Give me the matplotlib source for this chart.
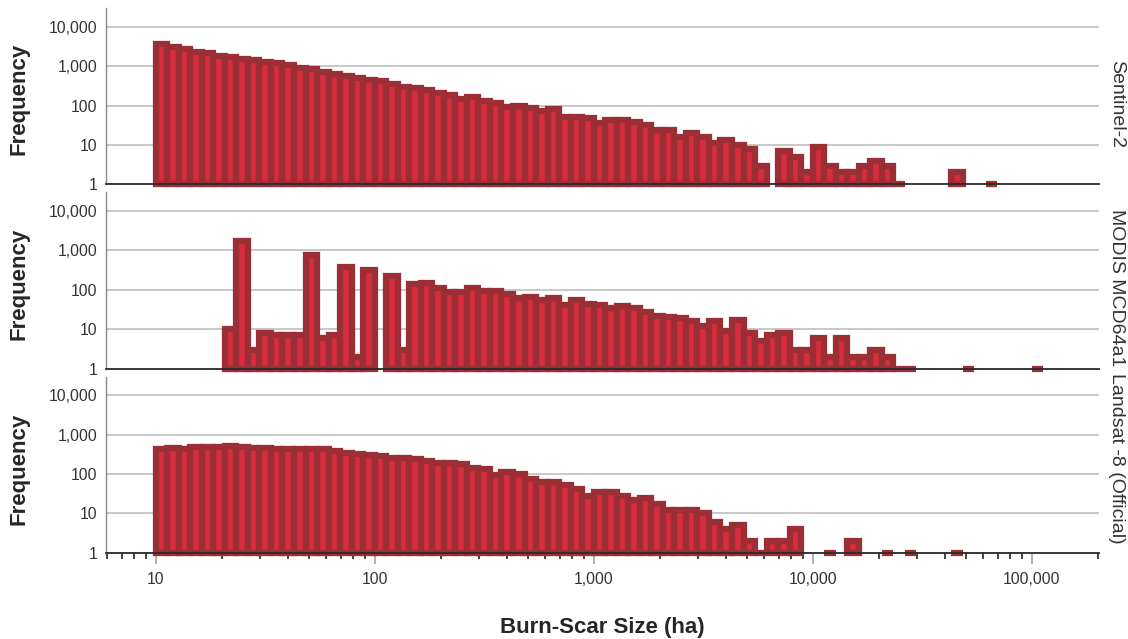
"""Burn-scar size histograms (log bins) for three products, stacked panels."""
import numpy as np
import matplotlib
matplotlib.use("Agg")
import matplotlib.pyplot as plt
from matplotlib.ticker import FixedLocator, FuncFormatter, NullFormatter, NullLocator

plt.rcParams.update({
    "font.family": ["Liberation Sans", "DejaVu Sans"],
    "axes.spines.top": False, "axes.spines.right": False,
})

# histogram bins: equal width in log10, starting at 10 ha, 19 bins per decade
BIN_START = 10.0
BINS_PER_DECADE = 19

# counts per bin (bin 0 starts at 10 ha)
sentinel = [3600, 3100, 2800, 2300, 2200, 1800, 1700, 1550, 1400, 1270,
            1170, 1090, 880, 830, 720, 630, 570, 500, 445, 410,
            358, 295, 273, 247, 212, 181, 143, 161, 133, 118,
            93, 97, 86, 73, 80, 52, 52, 49, 35, 43,
            43, 39, 33, 24, 24, 16, 20, 16, 11, 13,
            10, 8, 3, 0, 7, 5, 2, 9, 3, 2,
            2, 3, 4, 3, 1, 0, 0, 0, 0, 2,
            0, 0, 1]
modis = [0, 0, 0, 0, 0, 0, 10, 1700, 3, 8,
         7, 7, 7, 760, 6, 7, 380, 2, 315, 0,
         222, 3, 142, 147, 108, 87, 87, 112, 90, 92,
         79, 62, 65, 55, 62, 42, 55, 43, 40, 34,
         39, 34, 27, 21, 20, 19, 16, 12, 16, 9,
         17, 8, 5, 7, 8, 3, 3, 6, 2, 6,
         2, 2, 3, 2, 1, 1, 0, 0, 0, 0,
         1, 0, 0, 0, 0, 0, 1]
landsat = [438, 464, 447, 492, 483, 492, 512, 492, 455, 455,
           438, 438, 438, 430, 438, 397, 334, 321, 297, 291,
           259, 259, 240, 213, 186, 186, 176, 142, 131, 96,
           115, 100, 75, 62, 62, 54, 42, 27, 35, 35,
           27, 22, 24, 17, 12, 12, 12, 10, 6, 4,
           5, 2, 1, 2, 2, 4, 0, 0, 1, 0,
           2, 0, 0, 1, 0, 1, 0, 0, 0, 1]

panels = [("Sentinel-2", sentinel), ("MODIS MCD64a1", modis), ("Landsat -8 (Official)", landsat)]
y_ticks = [1, 10, 100, 1000, 10000]
x_ticks = [10, 100, 1000, 10000, 100000]

EDGE = "#9c2f36"
FACE = "#d62c3e"
TXT = "#333333"

W, H = 1128, 639
fig = plt.figure(figsize=(W / 100, H / 100), dpi=100)

# axes boxes in pixels: (top, bottom)
boxes = [(8, 184.3), (191.7, 368.7), (376.7, 552.7)]
x0, x1 = 106, 1099
label_y = [104, 287.5, 458.7]
freq_y = [98.5, 284, 468.5]

for i, ((name, counts), (top, bot)) in enumerate(zip(panels, boxes)):
    ax = fig.add_axes([x0 / W, 1 - bot / H, (x1 - x0) / W, (bot - top) / H])
    counts = np.array(counts, dtype=float)
    k = np.nonzero(counts)[0]
    left = BIN_START * 10 ** (k / BINS_PER_DECADE)
    right = BIN_START * 10 ** ((k + 1) / BINS_PER_DECADE)
    ax.bar(left, counts[k] - 1, width=right - left, bottom=1, align="edge",
           color=FACE, edgecolor=EDGE, linewidth=4.5, clip_on=False, zorder=2)

    ax.set_xscale("log"); ax.set_yscale("log")
    ax.set_xlim(5.93, 2.03e5); ax.set_ylim(1, 30000)
    ax.yaxis.set_major_locator(FixedLocator(y_ticks))
    ax.yaxis.set_minor_locator(NullLocator())
    ax.yaxis.set_major_formatter(FuncFormatter(lambda v, p: f"{v:,.0f}"))
    ax.tick_params(axis="y", length=0, pad=6, labelsize=11.3, labelcolor=TXT)
    ax.grid(axis="y", color="#c4c4c4", lw=1.3)
    ax.set_axisbelow(True)
    ax.spines["left"].set_color("#8a8a8a"); ax.spines["left"].set_linewidth(1.0)
    ax.spines["bottom"].set_color("#2b2b2b"); ax.spines["bottom"].set_linewidth(1.3)
    ax.spines["bottom"].set_zorder(3)

    if i < 2:
        ax.xaxis.set_major_locator(NullLocator())
        ax.xaxis.set_minor_locator(NullLocator())
    else:
        ax.xaxis.set_major_locator(FixedLocator(x_ticks))
        ax.xaxis.set_major_formatter(FuncFormatter(lambda v, p: f"{v:,.0f}"))
        minors = [m * 10 ** d for d in range(0, 6) for m in range(2, 10)]
        ax.xaxis.set_minor_locator(FixedLocator([m for m in minors if 5.9 <= m <= 2.03e5]))
        ax.xaxis.set_minor_formatter(NullFormatter())
        ax.tick_params(axis="x", which="major", length=8, width=1.4, color="#b0b0b0",
                       pad=6, labelsize=11.3, labelcolor=TXT)
        ax.tick_params(axis="x", which="minor", length=4, width=1.2, color="#222222")

    fig.text(1117 / W, 1 - label_y[i] / H, name, rotation=270, ha="center", va="center",
             fontsize=14, color=TXT)
    fig.text(19.5 / W, 1 - freq_y[i] / H, "Frequency", rotation=90, ha="center", va="center",
             fontsize=16, fontweight="bold", color="#262626")

fig.text(602.5 / W, 1 - 627.5 / H, "Burn-Scar Size (ha)", ha="center", va="center",
         fontsize=16, fontweight="bold", color="#262626")

fig.savefig("out.png", dpi=100)
